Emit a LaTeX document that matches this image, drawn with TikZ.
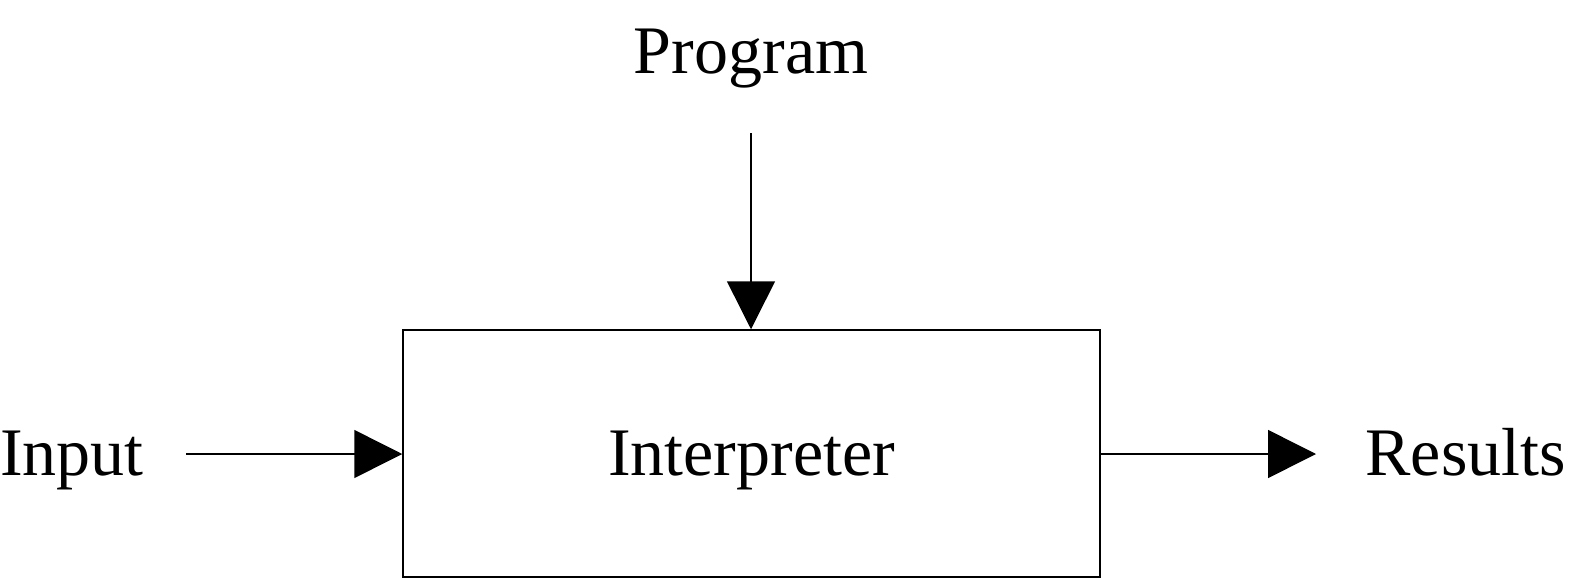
\documentclass[tikz,border=0pt]{standalone}
\usepackage{fontspec}
\setmainfont{Liberation Serif}
\usetikzlibrary{arrows.meta}
\begin{document}
\begin{tikzpicture}[x=1pt,y=-1pt,
  lbl/.style={inner sep=0pt,font=\fontsize{68}{80}\selectfont},
  conn/.style={line width=1.5pt,-{Triangle[length=48pt,width=48pt]}},
  procbox/.style={draw,line width=1.5pt,minimum width=697pt,minimum height=247pt,inner sep=0pt}]
\useasboundingbox (0,0) rectangle (1569,579);
\node[procbox] (interp) at (751.5,453.5) {};
\node[lbl,anchor=base] (interptxt) at (751.5,475) {Interpreter};
\node[lbl,anchor=base] (prog) at (751,73) {Program};
\node[lbl,anchor=base west] (inp) at (0,475) {Input};
\node[lbl,anchor=base east] (res) at (1566,475) {Results};
\coordinate (progend) at (751,133);
\coordinate (inpend) at (186,454);
\coordinate (resend) at (1316,454);
\draw[conn] (progend) -- (interp.north -| progend);
\draw[conn] (inpend) -- (interp.west |- inpend);
\draw[conn] (interp.east |- resend) -- (resend);
\end{tikzpicture}
\end{document}
